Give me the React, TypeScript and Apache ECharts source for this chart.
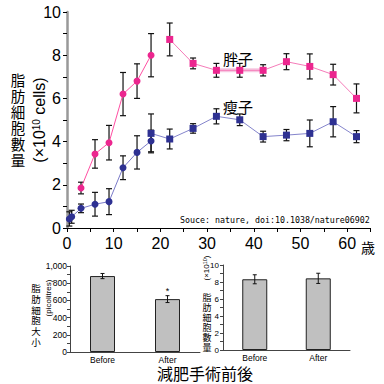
import React, { useEffect, useRef } from "react";
import * as echarts from "echarts";

// ---- Main chart data (age in years, fat cell number ×10^10) ----
const obeseAgeChild = [3, 6, 9, 12, 15, 18];
const obeseValChild = [1.85, 3.43, 3.95, 6.2, 6.8, 8.0];
const obeseErrChild = [0.27, 0.66, 0.8, 1.0, 0.8, 1.0];

const obeseAgeAdult = [22, 27, 32, 37, 42, 47, 52, 57, 62];
const obeseValAdult = [8.73, 7.62, 7.3, 7.3, 7.3, 7.7, 7.48, 7.1, 6.0];
const obeseErrAdult = [0.76, 0.25, 0.32, 0.32, 0.26, 0.37, 0.58, 0.48, 0.67];

const leanAgeChild = [0.5, 1, 3, 6, 9, 12, 15, 18];
const leanValChild = [0.42, 0.52, 0.91, 1.1, 1.22, 2.79, 3.5, 4.03];
const leanErrChild = [0.33, 0.3, 0.2, 0.55, 0.6, 0.55, 0.77, 0.5];

const leanAgeAdult = [18, 22, 27, 32, 37, 42, 47, 52, 57, 62];
const leanValAdult = [4.38, 4.12, 4.61, 5.17, 5.01, 4.23, 4.3, 4.38, 4.92, 4.23];
const leanErrAdult = [0.9, 0.46, 0.22, 0.35, 0.27, 0.25, 0.26, 0.62, 0.7, 0.28];

// ---- Bar charts (before / after surgery) ----
const surgeryCats = ["Before", "After"];
const cellSizeVals = [883, 615];
const cellSizeErrs = [30, 40];
const cellNumVals = [8.32, 8.43];
const cellNumErrs = [0.53, 0.6];

const LATIN = "Liberation Sans, Arial, sans-serif";
const CJK = "Noto Sans CJK JP, sans-serif";
const PINK = "#ec268f";
const BLUE = "#2e3192";

function pairs(xs: number[], ys: number[]) {
  return xs.map((x, i) => [x, ys[i]]);
}
function errs(xs: number[], ys: number[], es: number[]) {
  return xs.map((x, i) => [x, ys[i] - es[i], ys[i] + es[i]]);
}

function errRender(cap: number, width: number) {
  return (params: any, api: any) => {
    const x = api.value(0);
    const lo = api.value(1);
    const hi = api.value(2);
    const a = api.coord([x, hi]);
    const b = api.coord([x, lo]);
    const style = { stroke: "#111", lineWidth: width };
    return {
      type: "group",
      children: [
        { type: "line", shape: { x1: a[0], y1: a[1], x2: b[0], y2: b[1] }, style },
        { type: "line", shape: { x1: a[0] - cap, y1: a[1], x2: a[0] + cap, y2: a[1] }, style },
        { type: "line", shape: { x1: b[0] - cap, y1: b[1], x2: b[0] + cap, y2: b[1] }, style },
      ],
    };
  };
}

function txt(text: string, x: number, y: number, fontSize: number, fontFamily: string, extra: any = {}) {
  return {
    type: "text",
    x,
    y,
    ...extra,
    style: {
      text,
      fontSize,
      fontFamily,
      fill: "#000",
      align: "center",
      verticalAlign: "middle",
      textAlign: "center",
      textVerticalAlign: "middle",
      ...(extra.style || {}),
    },
  };
}

// vertical stacked characters, each as its own text element
function vtext(chars: string, x: number, yCenter: number, fontSize: number, step: number) {
  const arr = Array.from(chars);
  const y0 = yCenter - ((arr.length - 1) * step) / 2;
  return arr.map((c, i) => txt(c, x, y0 + i * step, fontSize, CJK));
}

export default function App() {
  const ref = useRef<HTMLDivElement>(null);
  useEffect(() => {
    if (!ref.current) return;
    const chart = echarts.init(ref.current, undefined, { renderer: "svg" });

    const errSeries = (data: number[][], xi: number, cap: number, w: number) => ({
      type: "custom",
      xAxisIndex: xi,
      yAxisIndex: xi,
      data,
      encode: { x: 0, y: [1, 2] },
      renderItem: errRender(cap, w),
      z: 1,
      silent: true,
    });

    const lineSeries = (data: number[][], color: string, lineColor: string, symbol: string) => ({
      type: "line",
      xAxisIndex: 0,
      yAxisIndex: 0,
      data,
      symbol,
      symbolSize: 7,
      itemStyle: { color },
      lineStyle: { color: lineColor, width: 1 },
      z: 3,
    });

    const option: any = {
      animation: false,
      grid: [
        { left: 67, top: 12, width: 303.5, height: 216 },
        { left: 70, top: 266, width: 130, height: 86 },
        { left: 223, top: 265, width: 127, height: 85 },
      ],
      xAxis: [
        {
          gridIndex: 0,
          type: "value",
          min: 0,
          max: 65,
          interval: 5,
          splitLine: { show: false },
          axisLine: { lineStyle: { color: "#000", width: 1 } },
          axisTick: { length: 4, lineStyle: { color: "#000" } },
          axisLabel: {
            fontSize: 16,
            fontFamily: LATIN,
            color: "#000",
            margin: 7,
            formatter: (v: number) => (v % 10 === 0 ? String(v) : ""),
          },
        },
        {
          gridIndex: 1,
          type: "category",
          data: surgeryCats,
          axisLine: { lineStyle: { color: "#444", width: 1 } },
          axisTick: { length: 3, lineStyle: { color: "#444" } },
          axisLabel: { fontSize: 8.5, fontFamily: LATIN, color: "#000", margin: 3 },
        },
        {
          gridIndex: 2,
          type: "category",
          data: surgeryCats,
          axisLine: { lineStyle: { color: "#444", width: 1 } },
          axisTick: { length: 3, lineStyle: { color: "#444" } },
          axisLabel: { fontSize: 8.5, fontFamily: LATIN, color: "#000", margin: 3 },
        },
      ],
      yAxis: [
        {
          gridIndex: 0,
          type: "value",
          min: 0,
          max: 10,
          interval: 1,
          splitLine: { show: false },
          axisLine: { show: true, lineStyle: { color: "#999", width: 2.5 } },
          axisTick: { show: true, length: 4, lineStyle: { color: "#000" } },
          axisLabel: {
            fontSize: 16,
            fontFamily: LATIN,
            color: "#000",
            margin: 6,
            formatter: (v: number) => (v % 2 === 0 ? String(v) : ""),
          },
        },
        {
          gridIndex: 1,
          type: "value",
          min: 0,
          max: 1000,
          interval: 100,
          splitLine: { show: false },
          axisLine: { show: true, lineStyle: { color: "#444", width: 1 } },
          axisTick: { show: true, length: 3, lineStyle: { color: "#444" } },
          axisLabel: {
            fontSize: 8.5,
            fontFamily: LATIN,
            color: "#000",
            margin: 3,
            formatter: (v: number) => (v % 200 === 0 ? (v === 1000 ? "1,000" : String(v)) : ""),
          },
        },
        {
          gridIndex: 2,
          type: "value",
          min: 0,
          max: 10,
          interval: 1,
          splitLine: { show: false },
          axisLine: { show: true, lineStyle: { color: "#444", width: 1 } },
          axisTick: { show: true, length: 3, lineStyle: { color: "#444" } },
          axisLabel: {
            fontSize: 8,
            fontFamily: LATIN,
            color: "#000",
            margin: 4,
            formatter: (v: number) => (v % 2 === 0 ? String(v) : ""),
          },
        },
      ],
      series: [
        errSeries(errs(obeseAgeChild, obeseValChild, obeseErrChild), 0, 3, 1.2),
        errSeries(errs(obeseAgeAdult, obeseValAdult, obeseErrAdult), 0, 3, 1.2),
        errSeries(errs(leanAgeChild, leanValChild, leanErrChild), 0, 3, 1.2),
        errSeries(errs(leanAgeAdult, leanValAdult, leanErrAdult), 0, 3, 1.2),
        {
          type: "line",
          xAxisIndex: 0,
          yAxisIndex: 0,
          data: pairs(obeseAgeAdult.slice(2, 5), obeseValAdult.slice(2, 5)),
          symbol: "none",
          lineStyle: { color: "#f6c8e1", width: 4 },
          z: 2,
        },
        lineSeries(pairs(obeseAgeChild, obeseValChild), PINK, "#ff4fa3", "circle"),
        lineSeries(pairs(obeseAgeAdult, obeseValAdult), PINK, "#f57cb9", "rect"),
        lineSeries(pairs(leanAgeChild, leanValChild), BLUE, "#7b7bc9", "circle"),
        lineSeries(pairs(leanAgeAdult, leanValAdult), BLUE, "#8585cc", "rect"),
        {
          type: "bar",
          xAxisIndex: 1,
          yAxisIndex: 1,
          barWidth: 25,
          itemStyle: { color: "#c0c0c0", borderColor: "#222", borderWidth: 1 },
          data: cellSizeVals.map((v, i) =>
            i === 1
              ? {
                  value: v,
                  label: {
                    show: true,
                    position: "top",
                    distance: 4,
                    formatter: "*",
                    fontSize: 9,
                    fontFamily: LATIN,
                    color: "#000",
                  },
                }
              : v
          ),
          z: 2,
        },
        {
          type: "custom",
          xAxisIndex: 1,
          yAxisIndex: 1,
          data: cellSizeVals.map((v, i) => [i, v - cellSizeErrs[i], v + cellSizeErrs[i]]),
          encode: { x: 0, y: [1, 2] },
          renderItem: errRender(2, 1),
          z: 4,
        },
        {
          type: "bar",
          xAxisIndex: 2,
          yAxisIndex: 2,
          barWidth: 25,
          itemStyle: { color: "#c0c0c0", borderColor: "#222", borderWidth: 1 },
          data: cellNumVals,
          z: 2,
        },
        {
          type: "custom",
          xAxisIndex: 2,
          yAxisIndex: 2,
          data: cellNumVals.map((v, i) => [i, v - cellNumErrs[i], v + cellNumErrs[i]]),
          encode: { x: 0, y: [1, 2] },
          renderItem: errRender(2, 1),
          z: 4,
        },
      ],
      graphic: [
        ...vtext("脂肪細胞數量", 18, 119, 14.5, 16),
        {
          type: "text",
          x: 39,
          y: 120,
          rotation: Math.PI / 2,
          style: {
            text: "{a|(×10}{s|10}{a| cells)}",
            rich: {
              a: { fontSize: 16, fontFamily: LATIN, fill: "#000", color: "#000" },
              s: { fontSize: 10, fontFamily: LATIN, fill: "#000", color: "#000", verticalAlign: "top" },
            },
            align: "center",
            verticalAlign: "middle",
            textAlign: "center",
            textVerticalAlign: "middle",
          },
        },
        txt("胖子", 238, 58, 15, CJK),
        txt("瘦子", 238, 106, 15, CJK),
        {
          type: "text",
          x: 180,
          y: 220,
          style: {
            text: "Souce: nature, doi:10.1038/nature06902",
            fontSize: 8.3,
            fontFamily: "DejaVu Sans Mono, monospace",
            fill: "#000",
            align: "left",
            verticalAlign: "middle",
            textAlign: "left",
            textVerticalAlign: "middle",
          },
        },
        txt("歳", 368, 247, 14, CJK),
        ...vtext("脂肪細胞大小", 36, 315, 9.5, 10.7),
        txt("(picolitres)", 48, 298, 8, LATIN, { rotation: Math.PI / 2 }),
        {
          type: "text",
          x: 206,
          y: 268,
          rotation: Math.PI / 2,
          style: {
            text: "{a|(×10}{s|10}{a|)}",
            rich: {
              a: { fontSize: 8, fontFamily: LATIN, fill: "#000", color: "#000" },
              s: { fontSize: 5.5, fontFamily: LATIN, fill: "#000", color: "#000", verticalAlign: "top" },
            },
            align: "center",
            verticalAlign: "middle",
            textAlign: "center",
            textVerticalAlign: "middle",
          },
        },
        ...vtext("脂肪細胞數量", 207, 322, 9, 10),
        txt("減肥手術前後", 205, 373, 16, CJK),
      ],
    };

    chart.setOption(option);
    return () => chart.dispose();
  }, []);

  return (
    <div
      ref={ref}
      style={{ position: "fixed", left: 0, top: 0, width: 384, height: 384, background: "#fff" }}
    />
  );
}
